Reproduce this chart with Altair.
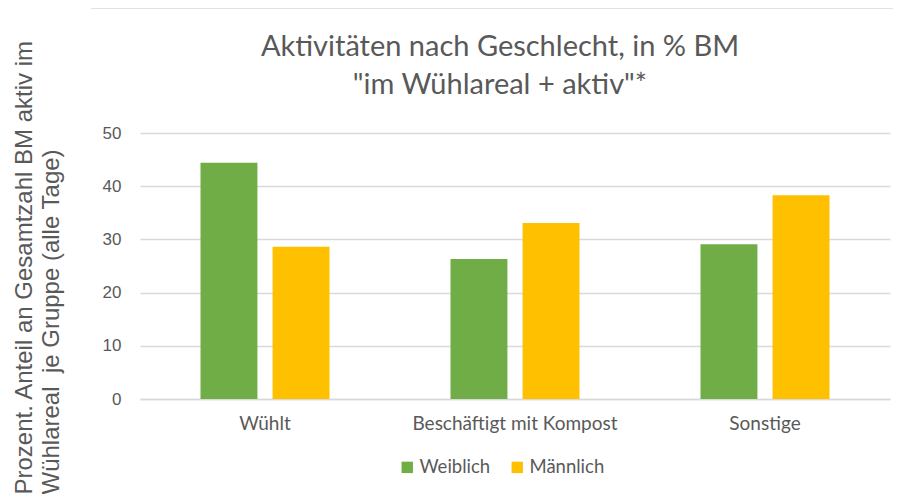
import altair as alt
import pandas as pd

categories = ["Wühlt", "Beschäftigt mit Kompost", "Sonstige"]
series = ["Weiblich", "Männlich"]
weiblich = [44.4, 26.3, 29.1]
maennlich = [28.6, 33.1, 38.3]
colors = ["#70AD47", "#FFC000"]

rows = []
for c, w, m in zip(categories, weiblich, maennlich):
    rows.append({"Kategorie": c, "Geschlecht": "Weiblich", "Wert": w})
    rows.append({"Kategorie": c, "Geschlecht": "Männlich", "Wert": m})
df = pd.DataFrame(rows)

gray = "#595959"

bars = alt.Chart(df).mark_bar().encode(
    x=alt.X("Kategorie:N", sort=categories,
            scale=alt.Scale(paddingInner=0.484, paddingOuter=0.242),
            axis=alt.Axis(title=None, labelAngle=0, labelFont="Lato", labelFontSize=19,
                          labelColor=gray, ticks=False, domainColor="#D9D9D9",
                          domainWidth=1.5, labelPadding=15, labelLimit=400)),
    xOffset=alt.XOffset("Geschlecht:N", sort=series,
                        scale=alt.Scale(paddingInner=0.21)),
    y=alt.Y("Wert:Q", scale=alt.Scale(domain=[0, 50]),
            axis=alt.Axis(values=[0, 10, 20, 30, 40, 50], grid=True, gridColor="#D9D9D9",
                          gridWidth=1.5, domain=False, ticks=False,
                          labelFont="Liberation Sans", labelFontSize=17, labelColor=gray,
                          labelPadding=19,
                          title=["Prozent. Anteil an Gesamtzahl BM aktiv im",
                                 "Wühlareal\u00a0 je Gruppe (alle Tage)"],
                          titleFont="Liberation Sans", titleFontSize=24,
                          titleFontWeight="normal", titleColor=gray,
                          titleX=-128, titleY=361, titleAlign="left",
                          titleBaseline="top", titleLineHeight=27, titleAngle=-90,
                          titleLimit=600)),
    color=alt.Color("Geschlecht:N", sort=series,
                    scale=alt.Scale(domain=series, range=colors),
                    legend=alt.Legend(title=None, orient="none", direction="horizontal",
                                      legendX=258, legendY=325, symbolType="square",
                                      symbolSize=130, symbolStrokeWidth=0,
                                      labelFont="Lato", labelFontSize=18.5, labelColor=gray,
                                      columnPadding=17, labelOffset=3)),
)

border = alt.Chart(pd.DataFrame({"a": [0]})).mark_rule(color="#D9D9D9", strokeWidth=1.5).encode(
    x=alt.value(-49), x2=alt.value(790), y=alt.value(-125)
)

chart = alt.layer(bars, border).properties(
    width=750, height=266,
    title=alt.TitleParams(
        text=["Aktivitäten nach Geschlecht, in % BM", "\"im Wühlareal + aktiv\"*"],
        font="Lato", fontSize=29, fontWeight="normal", color=gray,
        anchor="middle", frame="group", dx=-15, offset=-93, lineHeight=38),
    autosize=alt.AutoSizeParams(type="none"),
    padding={"left": 132, "top": 125, "right": 3, "bottom": 95},
).configure_view(stroke=None)

chart.save("out.html", embed_options={"renderer": "svg", "actions": False})
